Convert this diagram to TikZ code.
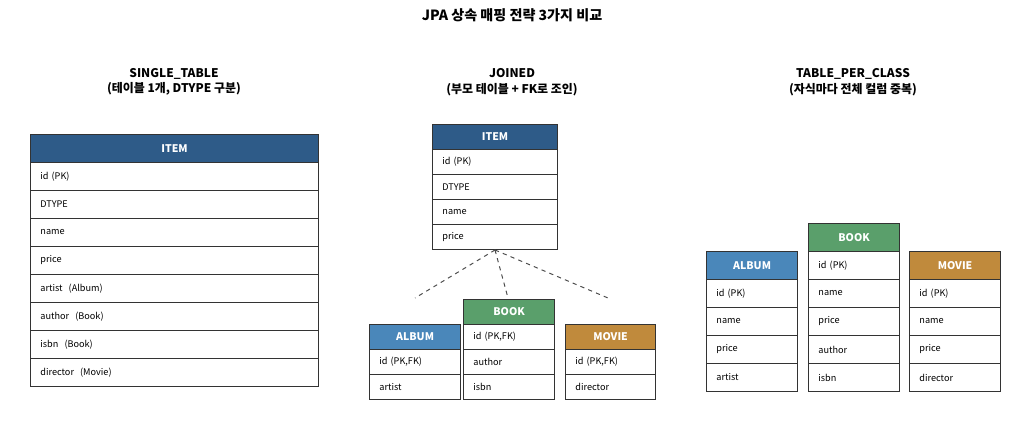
\documentclass[tikz,border=0pt]{standalone}
\usepackage{fontspec}
\setmainfont{Noto Sans CJK KR}
\usetikzlibrary{positioning}
\definecolor{itemblue}{HTML}{2E5B88}
\definecolor{albumblue}{HTML}{4A87BA}
\definecolor{bookgreen}{HTML}{5A9F6B}
\definecolor{moviegold}{HTML}{C08A3C}
\tikzset{
  x=0.025cm, y=-0.025cm,
  head/.style={draw=black!80, line width=0.8pt, text=white, font=\fontsize{7.5}{9}\selectfont\bfseries, inner sep=0pt, anchor=north west},
  cell/.style={draw=black!80, line width=0.6pt, fill=white, font=\fontsize{6.5}{8}\selectfont, inner sep=0pt, anchor=north west, text width=#1, align=left},
  title/.style={font=\fontsize{8.5}{11}\selectfont\bfseries, align=center},
  link/.style={dashed, draw=black!70, line width=0.7pt},
}
% \tbl{name}{x}{y}{width}{row height}{colour}{title}{rows}
\newcommand{\tbl}[8]{%
  \node[head, fill=#6, minimum width=#4*0.025cm, minimum height=#5*0.025cm] (#1) at (#2,#3) {#7};
  \foreach \r [count=\i] in {#8}
    \node[cell={#4*0.025cm-0.5cm}, minimum width=#4*0.025cm, minimum height=#5*0.025cm, inner xsep=0.5cm/2] (#1-\i) at (#2,#3+\i*#5) {\r};
}
\begin{document}
\begin{tikzpicture}
  \useasboundingbox (0,0) rectangle (1024,423);
  \node[font=\fontsize{10}{12}\selectfont\bfseries] (main) at (512,15) {JPA 상속 매핑 전략 3가지 비교};

  % single table
  \node[title] (t1) at (174,82) {SINGLE\_TABLE\\(테이블 1개, DTYPE 구분)};
  \tbl{single}{30}{134}{288}{28}{itemblue}{ITEM}{id (PK),DTYPE,name,price,artist~ (Album),author~ (Book),isbn~ (Book),director~ (Movie)}

  % joined
  \node[title] (t2) at (512,82) {JOINED\\(부모 테이블 + FK로 조인)};
  \tbl{item}{432}{124}{125}{25}{itemblue}{ITEM}{id (PK),DTYPE,name,price}
  \tbl{jalbum}{369}{324}{91}{25}{albumblue}{ALBUM}{{id (PK,FK)},artist}
  \tbl{jbook}{463}{299}{91}{25}{bookgreen}{BOOK}{{id (PK,FK)},author,isbn}
  \tbl{jmovie}{565}{324}{90}{25}{moviegold}{MOVIE}{{id (PK,FK)},director}
  \coordinate (fork) at (495,250);
  \coordinate (toalbum) at (415,298);
  \coordinate (tobook) at (508,298);
  \coordinate (tomovie) at (608,298);
  \draw[link] (fork) -- (toalbum);
  \draw[link] (fork) -- (tobook);
  \draw[link] (fork) -- (tomovie);

  % table per class
  \node[title] (t3) at (853,82) {TABLE\_PER\_CLASS\\(자식마다 전체 컬럼 중복)};
  \tbl{calbum}{706}{251}{91}{28}{albumblue}{ALBUM}{id (PK),name,price,artist}
  \tbl{cbook}{808}{223}{91}{28}{bookgreen}{BOOK}{id (PK),name,price,author,isbn}
  \tbl{cmovie}{909}{251}{91}{28}{moviegold}{MOVIE}{id (PK),name,price,director}
\end{tikzpicture}
\end{document}
